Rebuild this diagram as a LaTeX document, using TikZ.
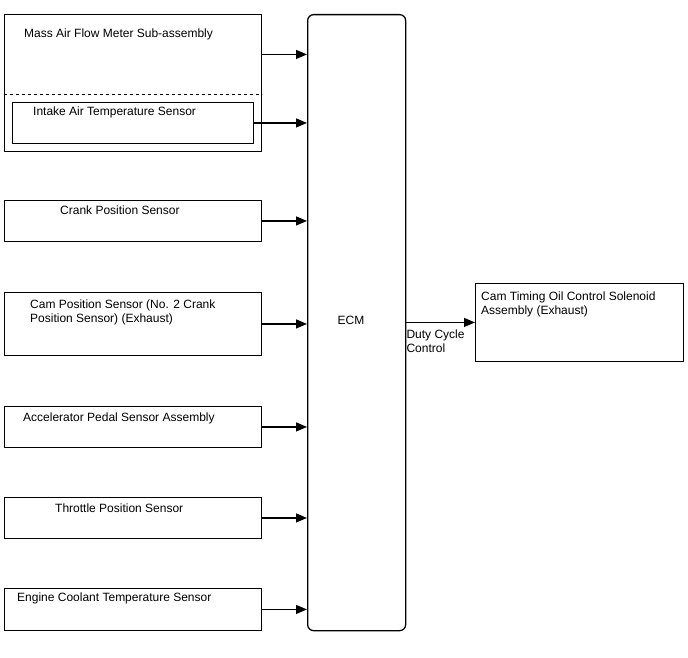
\documentclass[tikz,border=0pt]{standalone}
\usepackage{fontspec}
\setmainfont{Liberation Sans}
\usetikzlibrary{positioning,arrows.meta}

\tikzset{
  sensor/.style={draw, line width=0.9pt, anchor=north west, inner sep=0pt, minimum width=257pt},
  lbl/.style={anchor=north west, inner sep=0pt, align=left, font=\fontsize{12}{13.8}\selectfont},
  conn/.style={line width=1.2pt, -{Triangle[length=11pt,width=9pt]}}
}

\begin{document}
\begin{tikzpicture}[x=1pt,y=-1pt]
				\useasboundingbox (0,0) rectangle (688,658);

				% ECM block
				\node[draw, line width=1.3pt, rounded corners=6pt, anchor=north west, inner sep=0pt,
				      minimum width=98pt, minimum height=616pt] (ecm) at (307,14) {};
				\node[lbl, anchor=center] (ecmtxt) at (351,320) {ECM};

				% mass air flow meter with the intake air temperature sensor inside
				\node[sensor, minimum height=137pt] (maf) at (4,14) {};
				\draw[dashed, line width=0.9pt] (4,94) -- (262,94);
				\node[sensor, minimum width=241pt, minimum height=41pt] (iat) at (12,102) {};
				\node[lbl, below right=15pt and 20pt of maf.north west] (maftxt) {Mass Air Flow Meter Sub-assembly};
				\node[lbl, below right=5pt and 21pt of iat.north west] (iattxt) {Intake Air Temperature Sensor};

				% other sensors
				\node[sensor, minimum height=41pt] (ckp) at (4,200) {};
				\node[sensor, minimum height=63pt] (cmp) at (4,292) {};
				\node[sensor, minimum height=41pt] (app) at (4,406) {};
				\node[sensor, minimum height=41pt] (tps) at (4,497) {};
				\node[sensor, minimum height=42pt] (ect) at (4,588) {};
				\node[lbl, below right=6pt and 56pt of ckp.north west] (ckptxt) {Crank Position Sensor};
				\node[lbl, below right=8pt and 26pt of cmp.north west] (cmptxt) {Cam Position Sensor (No. 2 Crank\\Position Sensor) (Exhaust)};
				\node[lbl, below right=7pt and 19pt of app.north west] (apptxt) {Accelerator Pedal Sensor Assembly};
				\node[lbl, below right=7pt and 51pt of tps.north west] (tpstxt) {Throttle Position Sensor};
				\node[lbl, below right=5pt and 13pt of ect.north west] (ecttxt) {Engine Coolant Temperature Sensor};

				% actuator
				\node[draw, line width=0.9pt, anchor=north west, inner sep=0pt,
				      minimum width=208pt, minimum height=78pt] (ocv) at (475,283) {};
				\node[lbl, below right=9pt and 6pt of ocv.north west] (ocvtxt) {Cam Timing Oil Control Solenoid\\Assembly (Exhaust)};

				% inputs
				\draw[conn] ([yshift=28.5pt]maf.east) -- ([yshift=28.5pt]maf.east -| ecm.west);
				\foreach \s in {iat, ckp, cmp, app, tps, ect}
				  \draw[conn] (\s.east) -- (\s.east -| ecm.west);

				% output
				\draw[conn] (ecm.east |- ocv.west) -- (ocv.west);
				\node[lbl, below right=7pt and 0pt of ecm.east |- ocv.west] (dutytxt) {Duty Cycle\\Control};
			\end{tikzpicture}
\end{document}
